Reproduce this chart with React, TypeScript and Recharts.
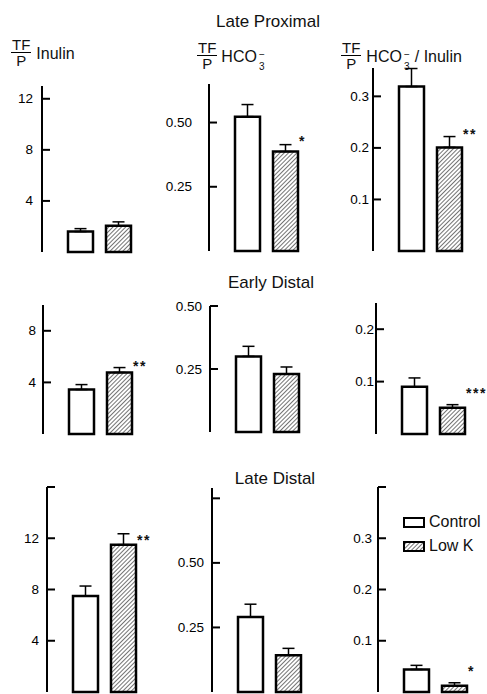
import { BarChart, Bar, XAxis, YAxis, ErrorBar, LabelList } from "recharts";

// segments, top to bottom
const segments = ["Late Proximal", "Early Distal", "Late Distal"];
const groups = ["Control", "Low K"];

// TF/P inulin
const inulinControl = [1.6, 3.45, 7.5];
const inulinControlSE = [0.23, 0.38, 0.77];
const inulinLowK = [2.05, 4.77, 11.5];
const inulinLowKSE = [0.31, 0.38, 0.85];

// TF/P HCO3-
const hco3Control = [0.523, 0.3, 0.29];
const hco3ControlSE = [0.047, 0.04, 0.05];
const hco3LowK = [0.387, 0.23, 0.142];
const hco3LowKSE = [0.027, 0.028, 0.027];

// TF/P HCO3- / inulin
const ratioControl = [0.319, 0.09, 0.044];
const ratioControlSE = [0.035, 0.017, 0.008];
const ratioLowK = [0.201, 0.05, 0.012];
const ratioLowKSE = [0.021, 0.006, 0.006];

// significance marks (Low K vs Control)
const inulinSig = ["", "**", "**"];
const hco3Sig = ["*", "", ""];
const ratioSig = ["**", "***", "*"];

// y axes
const inulinMax = [13, 10, 16];
const inulinTicks = [[4, 8, 12], [4, 8], [4, 8, 12, 16]];
const hco3Max = [0.65, 0.5, 0.79];
const hco3Ticks = [[0.25, 0.5], [0.25, 0.5], [0.25, 0.5, 0.75]];
const ratioMax = [0.355, 0.25, 0.4];
const ratioTicks = [[0.1, 0.2, 0.3], [0.1, 0.2], [0.1, 0.2, 0.3, 0.4]];
const unlabeledTicks = [16, 0.75, 0.4];

const FONT = "'Liberation Sans', Arial, sans-serif";
const PLOT_W = 115;
const YW = 50;

// panel placement: axis x, axis top, baseline
const layout = [
  [[42, 86, 252], [209, 84, 251], [373, 68, 251]],
  [[43, 305, 434], [210, 306, 432], [376, 303, 434]],
  [[47, 487, 692], [212, 488, 692], [378, 487, 692]],
];
const labelGap = [
  [9, 17, 4],
  [7, 8, 2],
  [8, 8, 6],
];
const sigOffset = [
  [0, 12, 14],
  [7, 0, 16],
  [6, 0, 16],
];

const measures = [
  { control: inulinControl, controlSE: inulinControlSE, lowK: inulinLowK, lowKSE: inulinLowKSE, sig: inulinSig, max: inulinMax, ticks: inulinTicks, fmt: (v: number) => String(v) },
  { control: hco3Control, controlSE: hco3ControlSE, lowK: hco3LowK, lowKSE: hco3LowKSE, sig: hco3Sig, max: hco3Max, ticks: hco3Ticks, fmt: (v: number) => v.toFixed(2) },
  { control: ratioControl, controlSE: ratioControlSE, lowK: ratioLowK, lowKSE: ratioLowKSE, sig: ratioSig, max: ratioMax, ticks: ratioTicks, fmt: (v: number) => v.toFixed(1) },
];

function Panel({ seg, m }: { seg: number; m: number }) {
  const meas = measures[m];
  const [ax, top, base] = layout[seg][m];
  const gap = labelGap[seg][m];
  const dy = sigOffset[seg][m];
  const data = [
    {
      name: segments[seg],
      control: meas.control[seg],
      controlErr: [0, meas.controlSE[seg]],
      lowK: meas.lowK[seg],
      lowKErr: [0, meas.lowKSE[seg]],
      sig: meas.sig[seg],
    },
  ];
  const mt = 6;
  const mb = 2;
  const h = base - top + mt + mb;
  const tick = (p: any) => {
    const v = p.payload.value;
    return (
      <g>
        <line x1={p.x} x2={p.x + 8} y1={p.y} y2={p.y} stroke="#000" strokeWidth={2} />
        {!unlabeledTicks.includes(v) && (
          <text x={p.x - gap} y={p.y} textAnchor="end" dominantBaseline="central" fontSize={13.5} fontFamily={FONT} fill="#000">
            {meas.fmt(v)}
          </text>
        )}
      </g>
    );
  };
  const sigLabel = (p: any) => {
    if (!p.value) return null;
    return (
      <text x={p.x + p.width + 1} y={p.y - dy + 6} fontSize={14} fontWeight="bold" letterSpacing={1.5} fontFamily={FONT} fill="#111">
        {p.value}
      </text>
    );
  };
  return (
    <div style={{ position: "absolute", left: ax - YW, top: top - mt }}>
      <BarChart width={YW + PLOT_W + 4} height={h} data={data} margin={{ top: mt, right: 4, bottom: mb, left: 0 }} barSize={25} barGap={13}>
        <XAxis dataKey="name" tick={false} tickLine={false} height={0} axisLine={{ stroke: "#000", strokeWidth: 2 }} />
        <YAxis
          width={YW}
          domain={[0, meas.max[seg]]}
          ticks={meas.ticks[seg]}
          interval={0}
          tickSize={0}
          tickMargin={0}
          tickLine={false}
          axisLine={{ stroke: "#000", strokeWidth: 2 }}
          tick={tick}
        />
        <Bar dataKey="control" name={groups[0]} fill="#fff" stroke="#000" strokeWidth={2.5} isAnimationActive={false}>
          <ErrorBar dataKey="controlErr" width={6} stroke="#000" strokeWidth={1.5} direction="y" />
        </Bar>
        <Bar dataKey="lowK" name={groups[1]} fill="url(#hatch)" stroke="#000" strokeWidth={2.5} isAnimationActive={false}>
          <ErrorBar dataKey="lowKErr" width={6} stroke="#000" strokeWidth={1.5} direction="y" />
          <LabelList dataKey="sig" content={sigLabel} />
        </Bar>
      </BarChart>
    </div>
  );
}

function Fraction() {
  return (
    <span style={{ display: "inline-flex", flexDirection: "column", alignItems: "center", fontSize: 15, lineHeight: "13px" }}>
      <span style={{ borderBottom: "1.5px solid #000", padding: "0 1px 1px" }}>TF</span>
      <span style={{ paddingTop: 1 }}>P</span>
    </span>
  );
}

function HCO3() {
  return (
    <span style={{ display: "inline-flex", alignItems: "center" }}>
      <span>HCO</span>
      <span style={{ display: "inline-flex", flexDirection: "column", alignItems: "center", fontSize: 10, lineHeight: "12px", marginTop: 9, marginLeft: 2 }}>
        <span>−</span>
        <span>3</span>
      </span>
    </span>
  );
}

const headerStyle = { position: "absolute" as const, top: 38, display: "flex", alignItems: "center", fontFamily: FONT, color: "#111" };
const titleStyle = { position: "absolute" as const, width: 200, textAlign: "center" as const, fontSize: 17, lineHeight: "17px", fontFamily: FONT, color: "#111" };

export default function App() {
  return (
    <div style={{ position: "absolute", left: 0, top: 0, width: 487, height: 694, background: "#fff", overflow: "hidden" }}>
      <svg width={0} height={0} style={{ position: "absolute" }}>
        <defs>
          <pattern id="hatch" width={3} height={3} patternUnits="userSpaceOnUse" patternTransform="rotate(45)">
            <rect width={3} height={3} fill="#fff" />
            <line x1={0} y1={0} x2={0} y2={3} stroke="#000" strokeWidth={1.1} />
          </pattern>
        </defs>
      </svg>

      <div style={{ ...titleStyle, left: 268 - 100, top: 13 }}>{segments[0]}</div>
      <div style={{ ...titleStyle, left: 271 - 100, top: 274 }}>{segments[1]}</div>
      <div style={{ ...titleStyle, left: 275 - 100, top: 470 }}>{segments[2]}</div>

      <div style={{ ...headerStyle, left: 11 }}>
        <Fraction />
        <span style={{ fontSize: 16, marginLeft: 5, marginTop: 2 }}>Inulin</span>
      </div>
      <div style={{ ...headerStyle, left: 197 }}>
        <Fraction />
        <span style={{ fontSize: 16, marginLeft: 4, marginTop: 2 }}><HCO3 /></span>
      </div>
      <div style={{ ...headerStyle, left: 341 }}>
        <Fraction />
        <span style={{ fontSize: 16, marginLeft: 5, marginTop: 2, display: "inline-flex", alignItems: "center" }}>
          <HCO3 />
          <span style={{ marginLeft: 5 }}>/ Inulin</span>
        </span>
      </div>

      {[0, 1, 2].map((s) => [0, 1, 2].map((m) => <Panel key={`${s}-${m}`} seg={s} m={m} />))}

      <div style={{ position: "absolute", left: 403, top: 510, fontFamily: FONT, fontSize: 16, color: "#111", lineHeight: "24px" }}>
        <div style={{ display: "flex", alignItems: "center" }}>
          <span style={{ display: "inline-block", width: 18, height: 7, border: "2px solid #000", background: "#fff", marginRight: 4 }} />
          {groups[0]}
        </div>
        <div style={{ display: "flex", alignItems: "center" }}>
          <svg width={22} height={11} style={{ marginRight: 4 }}>
            <rect x={1} y={1} width={20} height={9} fill="url(#hatch)" stroke="#000" strokeWidth={2} />
          </svg>
          {groups[1]}
        </div>
      </div>
    </div>
  );
}
